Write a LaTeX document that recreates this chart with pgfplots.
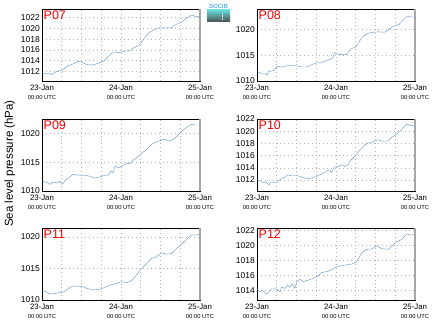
\documentclass[border=0pt]{standalone}
\usepackage{fontspec}
\setmainfont{Liberation Sans}
\usepackage{pgfplots}
\pgfplotsset{compat=1.18}
\definecolor{linec}{RGB}{100,146,196}
\definecolor{gridc}{RGB}{180,180,180}
\tikzset{plabel/.style={anchor=north west, text=red, font=\fontsize{12.5}{12}\selectfont, inner sep=1.5pt}}
\pgfplotsset{
  panel/.style={
    scale only axis, width=158pt, height=72pt, anchor=south west,
    xmin=0, xmax=48, xtick={0,24,48}, minor xtick={6,12,18,30,36,42},
    xticklabels={{23-Jan\\[-0.5pt]{\fontsize{5.8}{6}\selectfont 00:00 UTC}},{24-Jan\\[-0.5pt]{\fontsize{5.8}{6}\selectfont 00:00 UTC}},{25-Jan\\[-0.5pt]{\fontsize{5.8}{6}\selectfont 00:00 UTC}}},
    xticklabel style={align=center, font=\fontsize{7.8}{9}\selectfont, inner sep=0.5pt, yshift=-3.8pt},
    yticklabel style={font=\fontsize{8.5}{10}\selectfont, inner ysep=0pt, inner xsep=2pt},
    /pgf/number format/assume math mode=true,
    /pgf/number format/1000 sep={},
    grid=both,
    major grid style={dash pattern=on 0.9pt off 3pt, gridc, line width=0.6pt},
    minor grid style={dash pattern=on 0.9pt off 3pt, gridc, line width=0.6pt},
    major tick length=0pt, minor tick length=0pt,
    axis line style={black, line width=0.6pt},
    clip=true,
    cycle list={{linec, line width=0.95pt, mark=none}},
    after end axis/.code={
      \draw[gray!70, line width=1.6pt] (rel axis cs:1,0) -- (rel axis cs:1,1);
    },
  },
}
\begin{document}
\begin{tikzpicture}
\path[use as bounding box] (0pt,0pt) rectangle (435pt,327pt);
% logo
\shade[top color=cyan!50!teal!60, bottom color=black!70] (207pt,305pt) rectangle (230pt,317pt);
\draw[white, densely dotted, line width=0.6pt] (222pt,307pt) -- (222pt,315pt);
\node[text=cyan!80!blue, font=\fontsize{6}{6}\selectfont, inner sep=0pt] at (218.5pt,321pt) {SOCIB};
% y label
\node[rotate=90, font=\fontsize{11.5}{12}\selectfont] at (10pt,163.5pt) {Sea level pressure (hPa)};

% P07
\begin{axis}[panel, at={(42pt,246pt)}, ymin=1010.2, ymax=1023.6, ytick={1012,1014,1016,1018,1020,1022}]
\addplot coordinates {(0,1011.75)(1.4,1011.5)(2.4,1011.6)(2.9,1011.4)(3.9,1011.8)(5.0,1012.1)(6.0,1012.25)(7.0,1012.6)(8.0,1013.1)(9.0,1013.25)(10.0,1013.6)(11.0,1013.85)(12.1,1013.7)(13.1,1013.4)(14.1,1013.2)(15.6,1013.2)(17.1,1013.5)(18.1,1013.75)(19.1,1014.0)(20.2,1014.85)(21.2,1015.35)(22.2,1015.65)(23.2,1015.45)(24.2,1015.6)(25.2,1015.8)(26.7,1015.8)(27.7,1016.3)(29.3,1016.8)(30.3,1017.5)(31.3,1018.3)(32.3,1019.1)(33.8,1019.7)(35.3,1020.1)(36.4,1020.1)(37.9,1020.1)(39.4,1020.1)(40.4,1020.6)(42.4,1021.2)(43.9,1021.9)(45.5,1022.5)(46.5,1022.25)(48,1022.2)};
\node[plabel] at (rel axis cs:0,1) {P07};
\end{axis}

% P08
\begin{axis}[panel, at={(257pt,246pt)}, ymin=1010, ymax=1023.9, ytick={1010,1015,1020}]
\addplot coordinates {(0,1011.8)(1.5,1011.45)(2.5,1011.45)(3.0,1011.1)(3.5,1011.9)(4.5,1011.9)(5.2,1012.1)(6.2,1012.85)(7.5,1012.7)(8.8,1012.9)(10.5,1013.0)(12.0,1012.9)(13.6,1012.7)(15.1,1012.7)(16.6,1013.15)(18.1,1013.5)(19.6,1013.5)(21.1,1014.0)(22.6,1014.2)(23.1,1014.6)(23.6,1015.5)(24.1,1015.25)(25.1,1015.1)(27.1,1015.1)(28.6,1016.2)(30.1,1016.6)(31.1,1017.65)(32.1,1018.55)(33.6,1019.2)(35.1,1019.4)(37.1,1019.5)(38.7,1019.4)(39.7,1019.8)(41.2,1020.45)(43.2,1020.95)(44.2,1021.6)(45.7,1022.55)(46.7,1022.35)(48,1022.35)};
\node[plabel] at (rel axis cs:0,1) {P08};
\end{axis}

% P09
\begin{axis}[panel, at={(42pt,136pt)}, ymin=1010, ymax=1022.5, ytick={1010,1015,1020}]
\addplot coordinates {(0,1011.75)(0.9,1011.55)(1.9,1011.4)(2.4,1011.15)(3.4,1011.55)(4.5,1011.4)(5.3,1011.7)(6.3,1011.15)(7.0,1011.85)(8.5,1012.45)(9.5,1012.9)(11.0,1012.75)(13.1,1012.75)(14.6,1012.55)(16.1,1012.25)(17.6,1012.45)(19.1,1012.75)(20.2,1012.75)(20.9,1013.45)(21.5,1013.15)(22.2,1014.3)(23.2,1014.0)(24.2,1014.3)(25.7,1014.75)(26.7,1014.75)(27.7,1015.35)(29.3,1016.05)(30.3,1016.6)(31.8,1017.2)(33.3,1018.1)(34.8,1018.55)(36.9,1018.95)(38.9,1018.7)(39.9,1018.95)(41.4,1019.7)(42.9,1020.6)(44.5,1021.3)(45.5,1021.6)(46.5,1021.45)(48,1021.45)};
\node[plabel] at (rel axis cs:0,1) {P09};
\end{axis}

% P10
\begin{axis}[panel, at={(257pt,136pt)}, ymin=1010.2, ymax=1022, ytick={1012,1014,1016,1018,1020,1022}]
\addplot coordinates {(0,1012.1)(0.9,1011.85)(1.9,1011.55)(2.6,1011.7)(3.6,1011.2)(4.2,1011.7)(5.4,1011.6)(6.5,1011.85)(7.5,1012.3)(8.5,1012.45)(9.3,1012.85)(10.5,1012.7)(12.5,1012.7)(14.0,1012.4)(15.5,1012.2)(17.0,1012.4)(18.5,1012.7)(20.1,1013.1)(21.1,1013.5)(22.1,1013.65)(22.6,1013.2)(23.4,1014.1)(24.6,1014.2)(25.6,1014.5)(26.6,1014.2)(27.6,1014.5)(28.6,1015.3)(29.6,1015.85)(31.1,1016.85)(33.2,1017.95)(34.7,1018.15)(36.7,1018.6)(38.2,1018.35)(39.7,1018.35)(40.7,1018.9)(42.2,1019.45)(43.8,1020.25)(45.6,1021.2)(46.6,1020.9)(48,1020.95)};
\node[plabel] at (rel axis cs:0,1) {P10};
\end{axis}

% P11
\begin{axis}[panel, at={(42pt,27pt)}, ymin=1010, ymax=1021.4, ytick={1010,1015,1020}]
\addplot coordinates {(0,1011.3)(0.9,1011.4)(1.9,1011.05)(3.4,1010.95)(5.0,1011.15)(6.5,1011.25)(7.5,1011.6)(8.5,1012.0)(9.5,1012.2)(11.0,1012.2)(12.6,1012.1)(13.6,1011.85)(15.6,1011.6)(17.6,1011.7)(19.1,1012.0)(20.7,1012.35)(22.7,1012.65)(24.2,1012.9)(25.7,1012.75)(27.2,1013.05)(28.3,1013.7)(29.8,1014.75)(31.3,1015.5)(33.3,1016.6)(34.8,1016.85)(36.4,1017.45)(37.9,1017.25)(39.4,1017.35)(40.9,1018.15)(42.4,1018.85)(43.9,1019.6)(45.5,1020.35)(46.5,1020.25)(48,1020.4)};
\node[plabel] at (rel axis cs:0,1) {P11};
\end{axis}

% P12
\begin{axis}[panel, at={(257pt,27pt)}, ymin=1012.7, ymax=1022.3, ytick={1014,1016,1018,1020,1022}]
\addplot coordinates {(0,1014.15)(0.9,1013.8)(1.6,1013.95)(2.4,1013.7)(2.9,1013.5)(3.6,1013.8)(4.5,1014.2)(5.5,1014.2)(6.3,1014.05)(7.0,1013.8)(7.5,1014.4)(8.5,1014.25)(9.3,1014.7)(10.0,1014.4)(10.7,1014.85)(11.5,1014.25)(12.1,1015.15)(13.1,1015.45)(14.1,1015.15)(15.6,1015.35)(17.1,1015.6)(18.6,1015.9)(19.6,1016.35)(21.7,1016.55)(23.2,1016.9)(24.7,1017.2)(26.7,1017.35)(28.8,1017.5)(30.3,1017.8)(31.8,1019.0)(33.3,1019.45)(34.8,1019.5)(36.4,1019.9)(37.9,1019.55)(39.9,1019.45)(40.9,1019.9)(42.4,1020.45)(43.9,1020.75)(45.5,1021.5)(47.0,1021.35)(48,1021.45)};
\node[plabel] at (rel axis cs:0,1) {P12};
\end{axis}
\end{tikzpicture}
\end{document}
